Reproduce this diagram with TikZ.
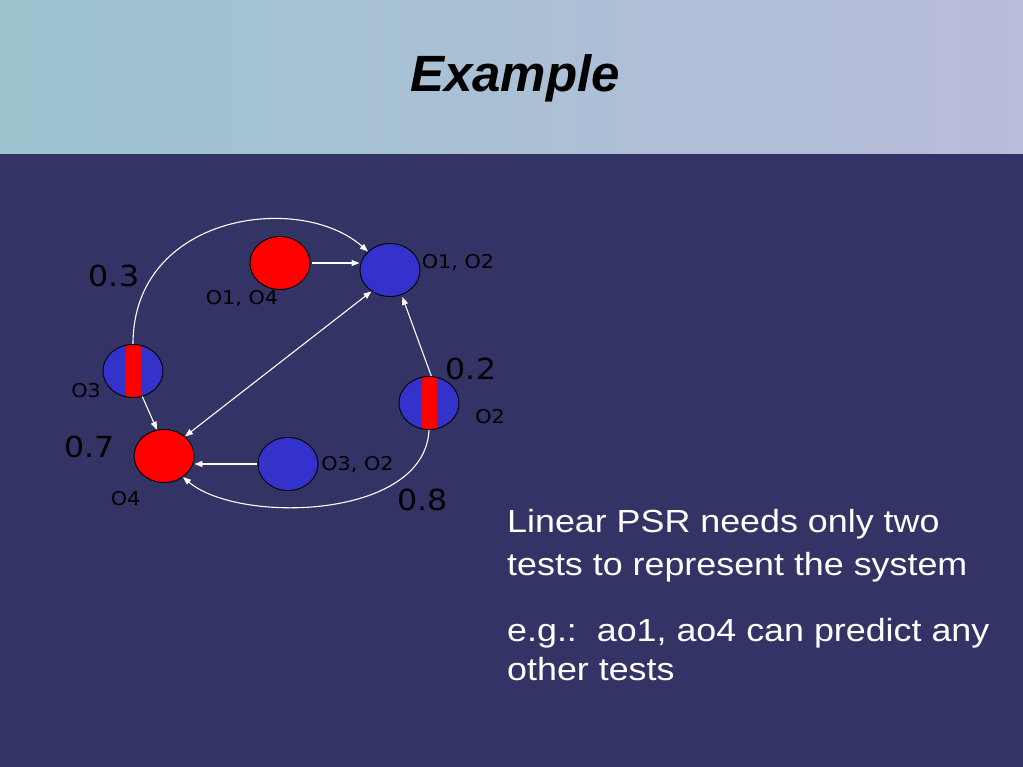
\documentclass[tikz,border=0pt]{standalone}
\usepackage{fontspec}
\setmainfont{Liberation Sans}
\newfontfamily\dejavu[FakeStretch=1.09]{DejaVu Sans}
\newfontfamily\widesans[FakeStretch=1.12]{Liberation Sans}
\usetikzlibrary{shapes.geometric,arrows.meta}
\definecolor{bodybg}{RGB}{51,51,102}
\definecolor{hdrL}{RGB}{156,196,207}
\definecolor{hdrR}{RGB}{185,188,219}
\definecolor{nodeblue}{RGB}{51,51,204}
\definecolor{nodered}{RGB}{255,0,0}
\begin{document}
\begin{tikzpicture}[x=1pt,y=-1pt,
  st/.style={ellipse,draw=black,line width=0.9pt,minimum width=60pt,minimum height=53pt,inner sep=0pt},
  redst/.style={st,fill=nodered},
  bluest/.style={st,fill=nodeblue},
  splitst/.style={st,fill=nodeblue,path picture={\fill[nodered] ([xshift=-7.5pt]path picture bounding box.north) rectangle ([xshift=7.5pt]path picture bounding box.south);}},
  arr/.style={draw=white,line width=1.1pt,-{Triangle[length=8pt,width=6pt]}},
  lbl/.style={font=\dejavu\fontsize{19}{22}\selectfont,text=black,anchor=base,inner sep=0pt},
  num/.style={font=\dejavu\fontsize{29}{34}\selectfont,text=black,anchor=base,inner sep=0pt},
  bodytxt/.style={font=\widesans\fontsize{32}{38}\selectfont,text=white,anchor=base west,inner sep=0pt}]
\useasboundingbox (0,0) rectangle (1023,767);
\shade[left color=hdrL,right color=hdrR] (0,0) rectangle (1023,154);
\fill[bodybg] (0,154) rectangle (1023,767);
\node[font=\bfseries\itshape\fontsize{51}{60}\selectfont,anchor=base,inner sep=0pt] (title) at (515,92) {Example};

% states
\node[redst] (r1) at (280,263) {};
\node[bluest] (b1) at (390,270) {};
\node[splitst] (s3) at (133,371) {};
\node[redst] (o4) at (164,456) {};
\node[bluest] (m) at (288,464) {};
\node[splitst] (s2) at (429,403) {};

% connectors
\draw[arr] ([xshift=2pt]r1.east) -- (r1.east -| b1.west);
\draw[arr] (s3.north) .. controls +(0,-130) and +(-68,-60) .. (b1.140);
\draw[arr] (s3.-70) -- (o4.105);
\draw[draw=white,line width=1.1pt,{Triangle[length=8pt,width=6pt]}-{Triangle[length=8pt,width=6pt]}] (o4.43) -- (b1.229);
\draw[arr] ([xshift=-1pt]m.west) -- (m.west -| o4.east);
\draw[arr,shorten >=2pt] (s2.85) -- (b1.-65);
\draw[arr] (s2.south) .. controls +(-4,90) and +(55,47) .. (o4.-48);

% labels
\node[num] (p03) at (114,287) {0.3};
\node[lbl] (lr1) at (242,305) {O1, O4};
\node[lbl] (lb1) at (458,269) {O1, O2};
\node[lbl] (ls3) at (86,397) {O3};
\node[num] (p02) at (471,380) {0.2};
\node[lbl] (ls2) at (490,423) {O2};
\node[num] (p07) at (89.5,457) {0.7};
\node[lbl] (lm) at (357.5,470) {O3, O2};
\node[lbl] (lo4) at (125.5,505) {O4};
\node[num] (p08) at (422.5,510) {0.8};

% text
\node[bodytxt] (t1) at (507,532) {Linear PSR needs only two};
\node[bodytxt] (t2) at (507,575) {tests to represent the system};
\node[bodytxt] (t3) at (507,641) {e.g.:\ \ ao1, ao4 can predict any};
\node[bodytxt] (t4) at (507,680) {other tests};
\end{tikzpicture}
\end{document}
